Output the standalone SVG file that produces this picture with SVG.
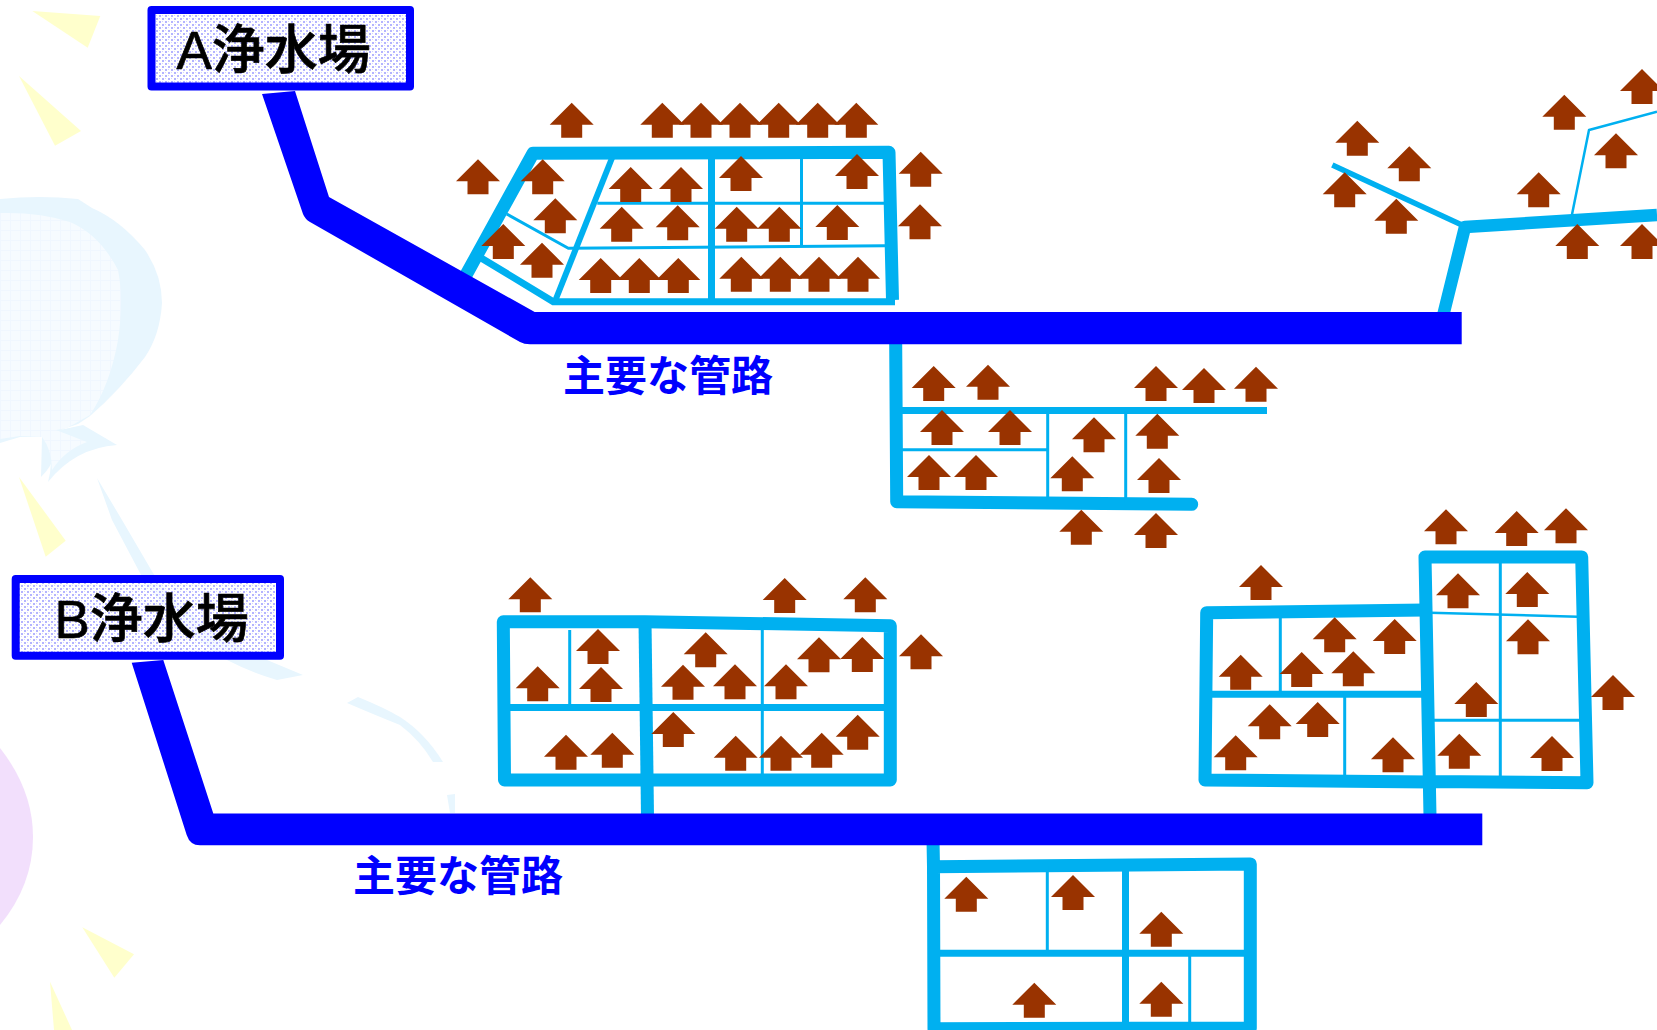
<svg xmlns="http://www.w3.org/2000/svg" xmlns:xlink="http://www.w3.org/1999/xlink" width="1657" height="1030" viewBox="0 0 1657 1030">
<style>
.y{fill:#FFFFCC}
.pb{fill:#E8F6FE}
.main{fill:#0000FF}
.c{fill:none;stroke:#00B0F0;stroke-linejoin:round}
.t13{stroke-width:13}
.t7{stroke-width:7}
.t6{stroke-width:6}
.t3{stroke-width:3}
.box{fill:url(#dots);stroke:#0000FF;stroke-width:8;stroke-linejoin:round}
.name{font-family:"Liberation Sans","Noto Sans CJK JP",sans-serif;font-size:53px;font-weight:500;fill:#000;stroke:#000;stroke-width:0.7px}
.lbl{font-family:"Liberation Sans","Noto Sans CJK JP",sans-serif;font-size:42px;font-weight:700;fill:#0000FF}
.h{fill:#993300}
</style>
<defs>
<pattern id="dots" width="6" height="6" patternUnits="userSpaceOnUse">
<rect width="6" height="6" fill="#fff" fill-opacity="0.6"/>
<rect x="0" y="0" width="2" height="2" fill="#B4B4FF"/>
<rect x="3" y="3" width="2" height="2" fill="#B4B4FF"/>
<rect x="3" y="0" width="1" height="1" fill="#D4D4FF"/>
<rect x="0" y="3" width="1" height="1" fill="#D4D4FF"/>
</pattern>
<pattern id="grid" width="10" height="10" patternUnits="userSpaceOnUse">
<rect width="10" height="10" fill="#F6FBFF"/>
<path d="M0 .5H10M.5 0V10" stroke="#F0F7FF" fill="none"/>
</pattern>
<path id="h" class="h" d="M0 0L22 22H10.500V35H-10.500V22H-22Z"/>
</defs>

<g id="background">
<polygon class="y" points="32.300,11 100.300,16 87.700,47.700"/>
<polygon class="y" points="19,76 81,131 55,145.700"/>
<polygon class="y" points="19,477 65.700,540.700 45.700,556.700"/>
<polygon class="y" points="82.300,927.300 134,954.300 114.300,977.700"/>
<polygon class="y" points="50,981.700 72,1030 54,1030"/>
<path class="pb" d="M0 199Q40 195 78 199L92 208Q120 220 145 250Q162 275 162 303Q160 335 145 357Q120 390 90 416L78 424L60 430L83 425L117 445Q75 448 48 482L50 473L52 452L48 440L52 452Q56 462 41 477L42 437L20 437L0 443Z"/>
<path d="M0 213Q40 212 70 222Q100 235 118 270Q124 300 118 340Q110 385 90 415L67 428L56 430L87 442Q65 450 52 470Q52 450 42 437L20 436L0 439Z" fill="url(#grid)"/>
<path class="pb" d="M97 478L122 520L153 573Q190 625 267 660L303 675L277 680Q250 672 227 660Q170 625 140 573L112 520Z"/>
<path class="pb" d="M347 703L358 697Q385 708 400 717Q425 733 443 762L433 762Q420 740 400 725Q375 715 347 703Z"/>
<path class="pb" d="M447 795L455 794L455 813L450 813Z"/>
<path d="M0 748Q33 790 33 837Q33 885 0 925Z" fill="#F2DFFC"/>
</g>

<g id="connectors">
<g id="area-1">
<polyline class="c" style="stroke-width:13" points="466,275 533,153.300 889,152.300 892.500,300"/>
<polyline class="c t7" points="480.700,257.700 553.300,301.700 895,301.700"/>
<line class="c t6" x1="612" y1="158" x2="555.500" y2="300"/>
<line class="c t7" x1="711.500" y1="155" x2="711.500" y2="302"/>
<line class="c t3" x1="801.500" y1="155" x2="801.500" y2="246"/>
<line class="c t3" x1="597.300" y1="203.300" x2="885" y2="203.300"/>
<polyline class="c t3" points="506.700,214 568.300,248.300 885,245.700"/>
</g>
<g id="area-2">
<polyline class="c t13" style="stroke-linecap:round" points="895.700,344 896.700,501.700 1191.700,504.300"/>
<line class="c t7" x1="900" y1="410.500" x2="1267" y2="410.500"/>
<line class="c t3" x1="900" y1="449.700" x2="1047" y2="449.700"/>
<line class="c t3" x1="1047.700" y1="410" x2="1047.700" y2="502"/>
<line class="c t3" x1="1125.700" y1="410" x2="1125.700" y2="503"/>
</g>
<g id="area-3">
<polyline class="c" style="stroke-width:12.500" points="1443,316 1465,227 1657,215"/>
<line class="c" style="stroke-width:5.500" x1="1332.300" y1="165" x2="1463" y2="225.500"/>
<polyline class="c" style="stroke-width:2.500" points="1571.700,216 1589,130 1657,111.700"/>
</g>
<g id="area-4">
<path class="c t13" d="M503.300 621.700L645 621.700L890.300 625.700L890.300 780L504.500 780Z"/>
<line class="c t13" x1="645" y1="621.700" x2="647.500" y2="816"/>
<line class="c t7" x1="505" y1="707.500" x2="890" y2="707.500"/>
<line class="c t3" x1="569.700" y1="630" x2="569.700" y2="707"/>
<line class="c t3" x1="762.300" y1="630" x2="762.300" y2="780"/>
</g>
<g id="area-5">
<polyline class="c t13" points="1425,610 1206.700,612.700 1205,780 1430,782"/>
<polyline class="c t13" points="1430,816 1425,557 1581.700,557 1587,782.700 1428,781.500"/>
<line class="c t7" x1="1208" y1="694.300" x2="1425" y2="694.300"/>
<line class="c t3" x1="1280.300" y1="615" x2="1280.300" y2="694"/>
<line class="c t3" x1="1344.700" y1="694" x2="1344.700" y2="778"/>
<line class="c" style="stroke-width:2.500" x1="1430" y1="612.700" x2="1578" y2="616.700"/>
<line class="c t3" x1="1500.300" y1="560" x2="1500.300" y2="778"/>
<line class="c t3" x1="1432" y1="720.300" x2="1582" y2="720.300"/>
</g>
<g id="area-6">
<polyline class="c t13" points="933,840 933.500,866.700 1250.300,864 1250.300,1028 934,1028.700 933.500,866"/>
<line class="c t7" x1="1125.500" y1="865" x2="1125.500" y2="1028"/>
<line class="c t7" x1="936" y1="953.300" x2="1250" y2="953.300"/>
<line class="c t3" x1="1047.300" y1="866" x2="1047.300" y2="953"/>
<line class="c t3" x1="1189.700" y1="953" x2="1189.700" y2="1026"/>
</g>
<path id="main-a" class="main" d="M262 94L295 91L329 197L534.700 312L1461.700 312L1461.700 344.300L530 344.300Q524 344.300 520 342L310 222Q305 219 303 214Z"/>
<path id="main-b" class="main" d="M131.700 662.700L163.300 660L213.300 813.500L1482.300 813.500L1482.300 845.300L200 845.300Q190 845.300 186.700 835Z"/>
</g>

<g id="station-a">
<rect class="box" x="151.500" y="10" width="258.500" height="76.500"/>
<text class="name" x="176.500" y="69">A浄水場</text>
</g>
<g id="station-b">
<rect class="box" x="15.700" y="579" width="264.300" height="76.700"/>
<text class="name" x="54.500" y="638">B浄水場</text>
</g>
<g id="label-a"><text class="lbl" x="563" y="391">主要な管路</text></g>
<g id="label-b"><text class="lbl" x="353" y="891">主要な管路</text></g>

<g id="houses">
<use href="#h" x="571.700" y="102.700"/><use href="#h" x="662.300" y="102.700"/><use href="#h" x="701" y="102.700"/><use href="#h" x="740" y="102.700"/><use href="#h" x="778.700" y="102.700"/><use href="#h" x="817.700" y="102.700"/><use href="#h" x="856.300" y="102.700"/>
<use href="#h" x="478" y="159.300"/><use href="#h" x="542.700" y="159.300"/><use href="#h" x="555.300" y="198.300"/><use href="#h" x="503.300" y="224"/><use href="#h" x="542" y="242.700"/><use href="#h" x="630.700" y="167"/><use href="#h" x="681" y="167"/><use href="#h" x="741" y="156"/><use href="#h" x="857" y="154"/><use href="#h" x="920.700" y="151.700"/><use href="#h" x="920" y="204.300"/><use href="#h" x="621.700" y="206.700"/><use href="#h" x="677.700" y="205.300"/><use href="#h" x="736.700" y="206.700"/><use href="#h" x="779.300" y="206.700"/><use href="#h" x="837.300" y="205"/><use href="#h" x="600.700" y="258"/><use href="#h" x="639.300" y="258"/><use href="#h" x="678.300" y="258"/><use href="#h" x="741.300" y="256.700"/><use href="#h" x="780.300" y="256.700"/><use href="#h" x="819" y="256.700"/><use href="#h" x="858" y="256.700"/>
<use href="#h" x="933.700" y="366"/><use href="#h" x="988" y="364.700"/><use href="#h" x="1156" y="366"/><use href="#h" x="1204" y="368"/><use href="#h" x="1256" y="366.700"/><use href="#h" x="942" y="410"/><use href="#h" x="1010" y="410"/><use href="#h" x="1094" y="417.300"/><use href="#h" x="1157.300" y="413.700"/><use href="#h" x="929" y="455"/><use href="#h" x="976" y="455"/><use href="#h" x="1072.300" y="456.300"/><use href="#h" x="1159" y="458"/><use href="#h" x="1081.300" y="509.700"/><use href="#h" x="1156" y="513"/>
<use href="#h" x="1357.300" y="120.700"/><use href="#h" x="1409.300" y="146.300"/><use href="#h" x="1344.700" y="172.300"/><use href="#h" x="1396.300" y="198.700"/><use href="#h" x="1564.300" y="94.700"/><use href="#h" x="1642" y="69"/><use href="#h" x="1616" y="133.300"/><use href="#h" x="1538.700" y="172.300"/><use href="#h" x="1577.300" y="224"/><use href="#h" x="1642" y="224"/>
<use href="#h" x="530.300" y="577.300"/><use href="#h" x="784.700" y="578"/><use href="#h" x="865.300" y="577.300"/><use href="#h" x="921" y="634.300"/><use href="#h" x="598" y="629"/><use href="#h" x="537.700" y="666.300"/><use href="#h" x="601" y="667"/><use href="#h" x="705.700" y="632.300"/><use href="#h" x="683" y="664.700"/><use href="#h" x="735" y="664.300"/><use href="#h" x="786" y="664.300"/><use href="#h" x="819" y="637.300"/><use href="#h" x="862.300" y="637"/><use href="#h" x="566" y="734.700"/><use href="#h" x="612.300" y="732.700"/><use href="#h" x="673.300" y="712"/><use href="#h" x="735.700" y="735.700"/><use href="#h" x="781" y="735.700"/><use href="#h" x="821.700" y="732.700"/><use href="#h" x="857.700" y="714.700"/>
<use href="#h" x="1446" y="509.300"/><use href="#h" x="1516.700" y="511"/><use href="#h" x="1566" y="508.300"/><use href="#h" x="1261" y="565"/><use href="#h" x="1458" y="573.300"/><use href="#h" x="1527.300" y="572"/><use href="#h" x="1528" y="619.300"/><use href="#h" x="1613" y="675"/><use href="#h" x="1476.300" y="682"/><use href="#h" x="1334.700" y="617.300"/><use href="#h" x="1394.700" y="619"/><use href="#h" x="1240.700" y="654.700"/><use href="#h" x="1301.700" y="652"/><use href="#h" x="1353.300" y="651.300"/><use href="#h" x="1269.700" y="704.300"/><use href="#h" x="1317.700" y="702"/><use href="#h" x="1235.700" y="735.300"/><use href="#h" x="1393" y="737.300"/><use href="#h" x="1459.300" y="733.700"/><use href="#h" x="1552" y="736"/>
<use href="#h" x="966.300" y="876.700"/><use href="#h" x="1073" y="875"/><use href="#h" x="1161.300" y="911.700"/><use href="#h" x="1034.300" y="982.700"/><use href="#h" x="1161.300" y="981.700"/>
</g>
</svg>
